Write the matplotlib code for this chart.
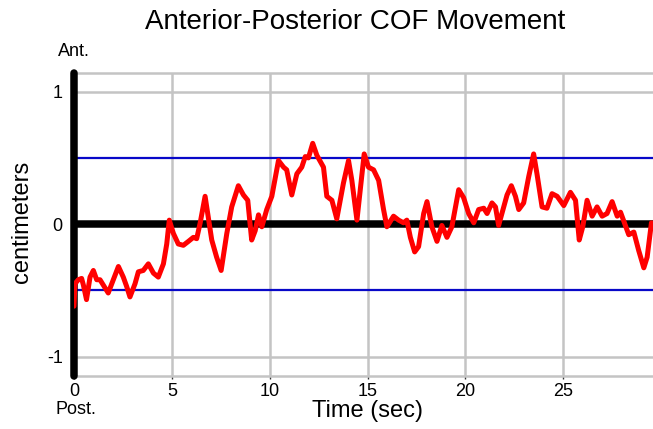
import matplotlib as mpl
mpl.use('Agg')
import matplotlib.pyplot as plt

# sway trace, anterior-posterior centre of force (cm) against time (s)
time_s = [0.0, 0.05, 0.22, 0.39, 0.48, 0.64, 0.82, 0.99, 1.16, 1.33,
          1.50, 1.75, 2.01, 2.27, 2.52, 2.69, 2.86, 3.12, 3.29, 3.54,
          3.80, 4.06, 4.31, 4.57, 4.74, 4.87, 5.08, 5.33, 5.59, 5.85,
          6.10, 6.27, 6.45, 6.70, 7.04, 7.29, 7.52, 7.81, 8.06, 8.40,
          8.66, 8.88, 9.08, 9.26, 9.43, 9.60, 9.85, 10.11, 10.45, 10.71,
          10.87, 11.13, 11.39, 11.64, 11.82, 11.98, 12.20, 12.41, 12.75, 12.92,
          13.18, 13.43, 13.77, 14.03, 14.20, 14.46, 14.63, 14.83, 15.05, 15.31,
          15.57, 15.82, 15.99, 16.33, 16.59, 16.84, 17.01, 17.19, 17.41, 17.61,
          17.87, 18.04, 18.29, 18.55, 18.80, 19.06, 19.31, 19.66, 19.91, 20.17,
          20.43, 20.68, 20.94, 21.11, 21.36, 21.54, 21.70, 21.96, 22.13, 22.35,
          22.56, 22.73, 22.98, 23.24, 23.49, 23.66, 23.92, 24.17, 24.43, 24.69,
          25.03, 25.37, 25.63, 25.82, 26.00, 26.22, 26.48, 26.73, 26.99, 27.24,
          27.50, 27.76, 27.93, 28.18, 28.35, 28.61, 28.86, 29.12, 29.29, 29.51]
cof_cm = [-0.62, -0.45, -0.42, -0.41, -0.46, -0.57, -0.40, -0.35, -0.42, -0.42,
          -0.46, -0.52, -0.42, -0.32, -0.40, -0.47, -0.55, -0.45, -0.36, -0.35,
          -0.30, -0.37, -0.40, -0.30, -0.15, 0.03, -0.07, -0.15, -0.16, -0.13,
          -0.10, -0.11, 0.01, 0.21, -0.12, -0.25, -0.35, -0.07, 0.13, 0.29,
          0.22, 0.18, -0.12, -0.05, 0.07, -0.02, 0.11, 0.21, 0.48, 0.43,
          0.41, 0.22, 0.38, 0.43, 0.51, 0.50, 0.61, 0.52, 0.43, 0.21,
          0.18, 0.04, 0.31, 0.48, 0.33, 0.03, 0.26, 0.53, 0.43, 0.41,
          0.33, 0.11, -0.02, 0.06, 0.03, 0.01, 0.03, -0.10, -0.21, -0.17,
          0.08, 0.17, -0.02, -0.13, -0.01, -0.10, -0.02, 0.26, 0.20, 0.08,
          0.01, 0.11, 0.12, 0.08, 0.16, 0.13, -0.01, 0.13, 0.22, 0.29,
          0.21, 0.11, 0.16, 0.36, 0.53, 0.38, 0.13, 0.12, 0.23, 0.21,
          0.14, 0.24, 0.18, -0.12, -0.02, 0.18, 0.06, 0.13, 0.06, 0.08,
          0.17, 0.06, 0.09, -0.01, -0.08, -0.06, -0.20, -0.33, -0.25, 0.01]

x_ticks = [0, 5, 10, 15, 20, 25]
y_ticks = [-1, 0, 1]
limit_cm = 0.5

plt.rcParams['font.family'] = ['Liberation Sans', 'DejaVu Sans']
plt.rcParams['axes.unicode_minus'] = False

fig = plt.figure(figsize=(6.53, 4.29), dpi=100)
ax = fig.add_axes([0.1133, 0.1235, 0.905, 0.706])

ax.set_xlim(0, 30.2)
ax.set_ylim(-1.147, 1.14)
ax.set_xticks(x_ticks)
ax.set_yticks(y_ticks)
ax.tick_params(axis='x', length=2, width=1, color='#333333', labelsize=13, pad=3)
ax.tick_params(axis='y', length=0, labelsize=13, pad=8)
ax.grid(True, color='#c4c4c4', linewidth=1.8)
ax.set_axisbelow(True)
for side in ['top', 'bottom']:
    ax.spines[side].set_color('#c4c4c4')
    ax.spines[side].set_linewidth(1.8)
ax.spines['right'].set_visible(False)
ax.spines['left'].set_visible(False)

ax.axhline(limit_cm, color='#0808c8', linewidth=1.6, zorder=3)
ax.axhline(-limit_cm, color='#0808c8', linewidth=1.6, zorder=3)
ax.axhline(0, color='black', linewidth=5.4, zorder=3)
ax.axvline(0, color='black', linewidth=5.4, solid_capstyle='round',
           clip_on=False, zorder=4)

ax.plot(time_s, cof_cm, color='#ff0000', linewidth=3.6,
        solid_joinstyle='round', solid_capstyle='round', zorder=5)

fig.text(355 / 653, 1 - 22 / 429, 'Anterior-Posterior COF Movement',
         ha='center', va='center', fontsize=20)
fig.text(22 / 653, 1 - 222 / 429, 'centimeters', rotation=90,
         ha='center', va='center', fontsize=17)
fig.text(367 / 653, 1 - 411 / 429, 'Time (sec)',
         ha='center', va='center', fontsize=17)
fig.text(74 / 653, 1 - 51 / 429, 'Ant.', ha='center', va='center', fontsize=13)
fig.text(76 / 653, 1 - 410 / 429, 'Post.', ha='center', va='center', fontsize=13)

fig.savefig('out.png', dpi=100)
